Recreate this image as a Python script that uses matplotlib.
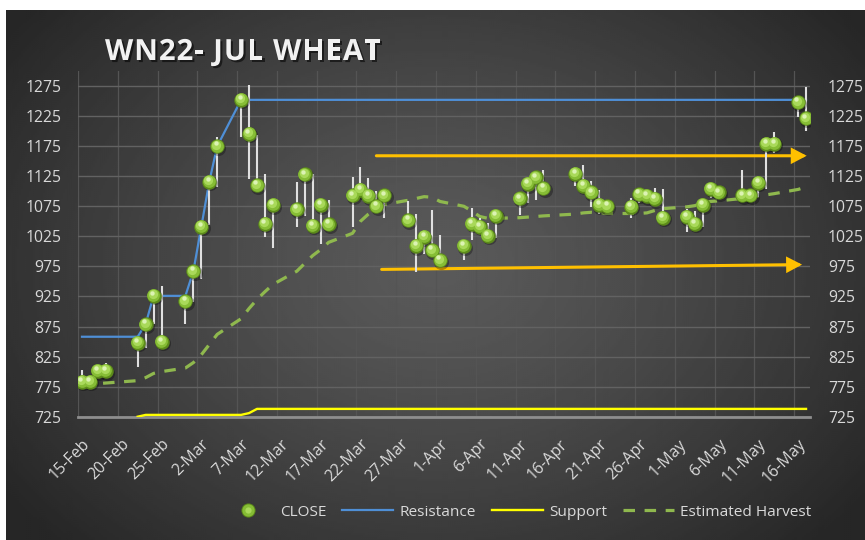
import numpy as np
import matplotlib
matplotlib.use('Agg')
import matplotlib.pyplot as plt
import matplotlib.dates as mdates
import matplotlib.transforms as mtrans
import matplotlib.patheffects as pe
from matplotlib.patches import FancyArrowPatch
from matplotlib.lines import Line2D
from matplotlib.legend_handler import HandlerTuple
from matplotlib.font_manager import FontProperties, findfont
from matplotlib.ft2font import FT2Font
import datetime as dt

plt.rcParams['font.family'] = ['Open Sans', 'DejaVu Sans']

# ---------------- data ----------------
dates = ['2022-02-15', '2022-02-16', '2022-02-17', '2022-02-18', '2022-02-22', '2022-02-23',
         '2022-02-24', '2022-02-25', '2022-02-28',
         '2022-03-01', '2022-03-02', '2022-03-03', '2022-03-04', '2022-03-07', '2022-03-08',
         '2022-03-09', '2022-03-10', '2022-03-11', '2022-03-14', '2022-03-15', '2022-03-16',
         '2022-03-17', '2022-03-18', '2022-03-21', '2022-03-22', '2022-03-23', '2022-03-24',
         '2022-03-25', '2022-03-28', '2022-03-29', '2022-03-30', '2022-03-31',
         '2022-04-01', '2022-04-04', '2022-04-05', '2022-04-06', '2022-04-07', '2022-04-08',
         '2022-04-11', '2022-04-12', '2022-04-13', '2022-04-14', '2022-04-18', '2022-04-19',
         '2022-04-20', '2022-04-21', '2022-04-22', '2022-04-25', '2022-04-26', '2022-04-27',
         '2022-04-28', '2022-04-29',
         '2022-05-02', '2022-05-03', '2022-05-04', '2022-05-05', '2022-05-06', '2022-05-09',
         '2022-05-10', '2022-05-11', '2022-05-12', '2022-05-13', '2022-05-16', '2022-05-17']

close = [783, 783, 801, 801, 848, 879, 926, 850, 917,
         967, 1041, 1116, 1175, 1252, 1196, 1110, 1046, 1077, 1070, 1128, 1043, 1077, 1045,
         1093, 1102, 1092, 1075, 1093, 1052, 1009, 1024, 1002,
         985, 1009, 1046, 1041, 1026, 1059, 1088, 1112, 1123, 1105, 1129, 1109, 1098, 1077,
         1075, 1074, 1095, 1092, 1087, 1056,
         1057, 1046, 1077, 1104, 1098, 1093, 1093, 1114, 1179, 1179, 1248, 1221]

high = [802, 790, 808, 815, 858, 885, 930, 942, 922,
        972, 1046, 1122, 1190, 1258, 1277, 1193, 1129, 1085, 1116, 1134, 1128, 1082, 1086,
        1124, 1140, 1122, 1101, 1098, 1083, 1062, 1036, 1069,
        1027, 1015, 1072, 1055, 1047, 1069, 1094, 1124, 1130, 1135, 1141, 1143, 1117, 1102,
        1085, 1089, 1100, 1100, 1106, 1103,
        1070, 1067, 1083, 1110, 1104, 1135, 1102, 1125, 1185, 1198, 1255, 1274]

low = [778, 776, 795, 795, 808, 839, 880, 841, 879,
       915, 954, 1044, 1107, 1190, 1121, 1100, 1024, 1006, 1041, 1059, 1038, 1012, 1040,
       1040, 1095, 1085, 1070, 1055, 1041, 966, 995, 991,
       980, 985, 1019, 1035, 1020, 1022, 1060, 1081, 1085, 1100, 1109, 1103, 1074, 1062,
       1064, 1055, 1080, 1085, 1080, 1050,
       1033, 1040, 1041, 1088, 1090, 1088, 1085, 1090, 1103, 1163, 1224, 1200]

resistance = [858, 858, 858, 858, 858, 879, 926, 926, 926,
              967, 1041, 1116, 1175, 1252, 1252, 1252, 1252, 1252, 1252, 1252, 1252, 1252, 1252,
              1252, 1252, 1252, 1252, 1252, 1252, 1252, 1252, 1252,
              1252, 1252, 1252, 1252, 1252, 1252, 1252, 1252, 1252, 1252, 1252, 1252, 1252, 1252,
              1252, 1252, 1252, 1252, 1252, 1252,
              1252, 1252, 1252, 1252, 1252, 1252, 1252, 1252, 1252, 1252, 1252, 1252]

support = [np.nan, np.nan, np.nan, np.nan, 725, 728, 728, 728, 728,
           728, 728, 728, 728, 728, 731, 738, 738, 738, 738, 738, 738, 738, 738,
           738, 738, 738, 738, 738, 738, 738, 738, 738,
           738, 738, 738, 738, 738, 738, 738, 738, 738, 738, 738, 738, 738, 738,
           738, 738, 738, 738, 738, 738,
           738, 738, 738, 738, 738, 738, 738, 738, 738, 738, 738, 738]

harvest = [780, 780, 780, 781, 785, 790, 797, 800, 806,
           815, 828, 845, 862, 888, 905, 920, 933, 945, 967, 980, 993, 1003, 1015,
           1030, 1050, 1062, 1072, 1078, 1085, 1088, 1091, 1090,
           1083, 1075, 1067, 1058, 1055, 1055, 1056, 1057, 1058, 1059, 1062, 1064, 1065, 1064,
           1063, 1063, 1063, 1064, 1068, 1071,
           1074, 1076, 1080, 1083, 1084, 1088, 1091, 1092, 1094, 1096, 1103, 1107]

x_tick_labels = ['15-Feb', '20-Feb', '25-Feb', '2-Mar', '7-Mar', '12-Mar', '17-Mar', '22-Mar',
                 '27-Mar', '1-Apr', '6-Apr', '11-Apr', '16-Apr', '21-Apr', '26-Apr', '1-May',
                 '6-May', '11-May', '16-May']
y_ticks = [725, 775, 825, 875, 925, 975, 1025, 1075, 1125, 1175, 1225, 1275]

# orange trend arrows: (start date, start level, end date, end level)
arrow_upper = ('2022-03-24 00:00', 1159, '2022-05-17 02:00', 1159)
arrow_lower = ('2022-03-24 16:00', 970, '2022-05-16 12:00', 978)

title = 'WN22- JUL WHEAT'
legend_labels = ['CLOSE', 'Resistance', 'Support', 'Estimated Harvest']

# ---------------- figure ----------------
W, H = 865, 540
fig = plt.figure(figsize=(W / 100, H / 100), dpi=100)
fig.patch.set_facecolor('white')

# dark radial-gradient chart background
bg = fig.add_axes([6 / W, 0, (W - 6) / W, (H - 10) / H])
bg.set_axis_off()
gw, gh = 430, 265
yy, xx = np.mgrid[0:gh, 0:gw]
rr = np.sqrt(((xx - gw * 0.5) / (gw * 0.62)) ** 2 + ((yy - gh * 0.48) / (gh * 0.75)) ** 2)
shade = (0x5a - (0x5a - 0x26) * np.clip(rr, 0, 1) ** 1.3) / 255.0
bg.imshow(shade, cmap='gray', vmin=0, vmax=1, extent=[0, 1, 0, 1], aspect='auto',
          interpolation='bilinear')
bg.set_xlim(0, 1)
bg.set_ylim(0, 1)

def tod(s):
    return mdates.date2num(dt.datetime.fromisoformat(s))

xn = np.array([tod(d) for d in dates])
tick_pos = np.array([mdates.date2num(dt.datetime.strptime(t + '-2022', '%d-%b-%Y'))
                     for t in x_tick_labels])

ax_left, ax_right, ax_bottom, ax_top = 78, 810, 416.7, 71
ax = fig.add_axes([ax_left / W, (H - ax_bottom) / H, (ax_right - ax_left) / W,
                   (ax_bottom - ax_top) / H])
ax.patch.set_alpha(0)
ax.set_xlim(tod('2022-02-14 12:00'), tod('2022-05-17 12:00'))
ax.set_ylim(725, 1300)

# grid
ax.set_yticks(y_ticks)
ax.set_xticks(tick_pos)
ax.set_xticks(tick_pos - 0.5, minor=True)
ax.grid(True, axis='y', which='major', color='#626262', lw=1.0, zorder=0)
ax.grid(True, axis='x', which='minor', color='#545454', lw=0.9, zorder=0)
ax.set_axisbelow(True)
for s in ['top', 'left', 'right']:
    ax.spines[s].set_visible(False)
ax.spines['bottom'].set_color('#8e8e8e')
ax.spines['bottom'].set_linewidth(2.0)
ax.spines['bottom'].set_zorder(1.5)

ax.set_xticklabels(x_tick_labels, rotation=45, ha='right', va='top', rotation_mode='anchor')
ax.tick_params(axis='x', which='both', length=0, pad=14, labelsize=11.5, labelcolor='#d9d9d9')
ax.tick_params(axis='y', length=0, pad=12, labelsize=11.3, labelcolor='#d9d9d9')
ax.set_yticklabels([str(v) for v in y_ticks])

ax2 = ax.twinx()
ax2.set_ylim(ax.get_ylim())
ax2.set_yticks(y_ticks)
ax2.set_yticklabels([str(v) for v in y_ticks])
ax2.tick_params(axis='y', length=0, pad=13, labelsize=11.3, labelcolor='#d9d9d9')
for s in ax2.spines.values():
    s.set_visible(False)
ax2.patch.set_alpha(0)

# series lines
green_dash = '#8fb84e'
blue = '#4f8fd6'
yellow = '#ffff00'
ax.plot(xn, harvest, color=green_dash, lw=2.3, dashes=(3.6, 3.0), zorder=2,
        solid_capstyle='butt', dash_capstyle='butt')
ax.plot(xn, resistance, color=blue, lw=1.6, zorder=3)
ax.plot(xn, support, color=yellow, lw=1.7, zorder=3)

# orange arrows
orange = '#ffc000'
for a in (arrow_upper, arrow_lower):
    arr = FancyArrowPatch((tod(a[0]), a[1]), (tod(a[2]), a[3]),
                          arrowstyle='-|>,head_length=8,head_width=4.2',
                          mutation_scale=1, color=orange, lw=2.2, shrinkA=0, shrinkB=0,
                          zorder=3.5, joinstyle='miter')
    ax.add_patch(arr)

# high-low bars
ax.vlines(xn, low, high, color='#e0e0e0', lw=1.5, zorder=4)

# close balls (layered to look like shaded spheres)
def off(dx, dy):
    return ax.transData + mtrans.ScaledTranslation(dx / 100, dy / 100, fig.dpi_scale_trans)

ball_cols = ['#5c8a1a', '#86bd35', '#a9d95a', '#dcf3b4']
ax.scatter(xn, close, s=118, color='black', alpha=0.30, lw=0, zorder=5, transform=off(1.2, -1.6))
ax.scatter(xn, close, s=108, color=ball_cols[0], lw=0, zorder=5.1)
ax.scatter(xn, close, s=84, color=ball_cols[1], lw=0, zorder=5.2, transform=off(-0.4, 0.6))
ax.scatter(xn, close, s=44, color=ball_cols[2], lw=0, zorder=5.3, transform=off(-1.0, 1.6))
ax.scatter(xn, close, s=10, color=ball_cols[3], lw=0, zorder=5.4, transform=off(-1.6, 2.9))

# title with letter spacing (characters placed one by one)
tprop = FontProperties(family='Open Sans', weight='bold', size=21)
ft = FT2Font(findfont(tprop))
ft.set_size(21, 72)
adv_px = [ft.load_char(ord(c)).linearHoriAdvance / 65536 * 100 / 72 for c in title]
title_left, title_right = 105, 381
spacing = (title_right - title_left - sum(adv_px)) / (len(title) - 1)
shadow = [pe.withSimplePatchShadow(offset=(1.5, -1.5), shadow_rgbFace='black', alpha=0.55)]
xpos = title_left
for c, a in zip(title, adv_px):
    if c != ' ':
        fig.text(xpos / W, 1 - 60 / H, c, fontproperties=tprop, color='#f2f2f2',
                 ha='left', va='baseline', path_effects=shadow)
    xpos += a + spacing

# legend
h_close = (Line2D([], [], ls='none', marker='o', ms=10.2, color=ball_cols[0], mec='none'),
           Line2D([], [], ls='none', marker='o', ms=8.8, color=ball_cols[1], mec='none'),
           Line2D([], [], ls='none', marker='o', ms=4.5, color=ball_cols[2], mec='none'))
h_res = Line2D([], [], color=blue, lw=1.6)
h_sup = Line2D([], [], color=yellow, lw=1.7)
h_har = Line2D([], [], color=green_dash, lw=2.3, dashes=(3.6, 3.0))
leg = fig.legend([h_close, h_res, h_sup, h_har], legend_labels,
                 handler_map={tuple: HandlerTuple(ndivide=1)},
                 loc='center', bbox_to_anchor=(517 / W, 1 - 512 / H), ncol=4, frameon=False,
                 fontsize=11.1, labelcolor='#d9d9d9', handlelength=3.3, handletextpad=0.4,
                 columnspacing=1.05)

fig.savefig('out.png', dpi=100, facecolor=fig.get_facecolor())
